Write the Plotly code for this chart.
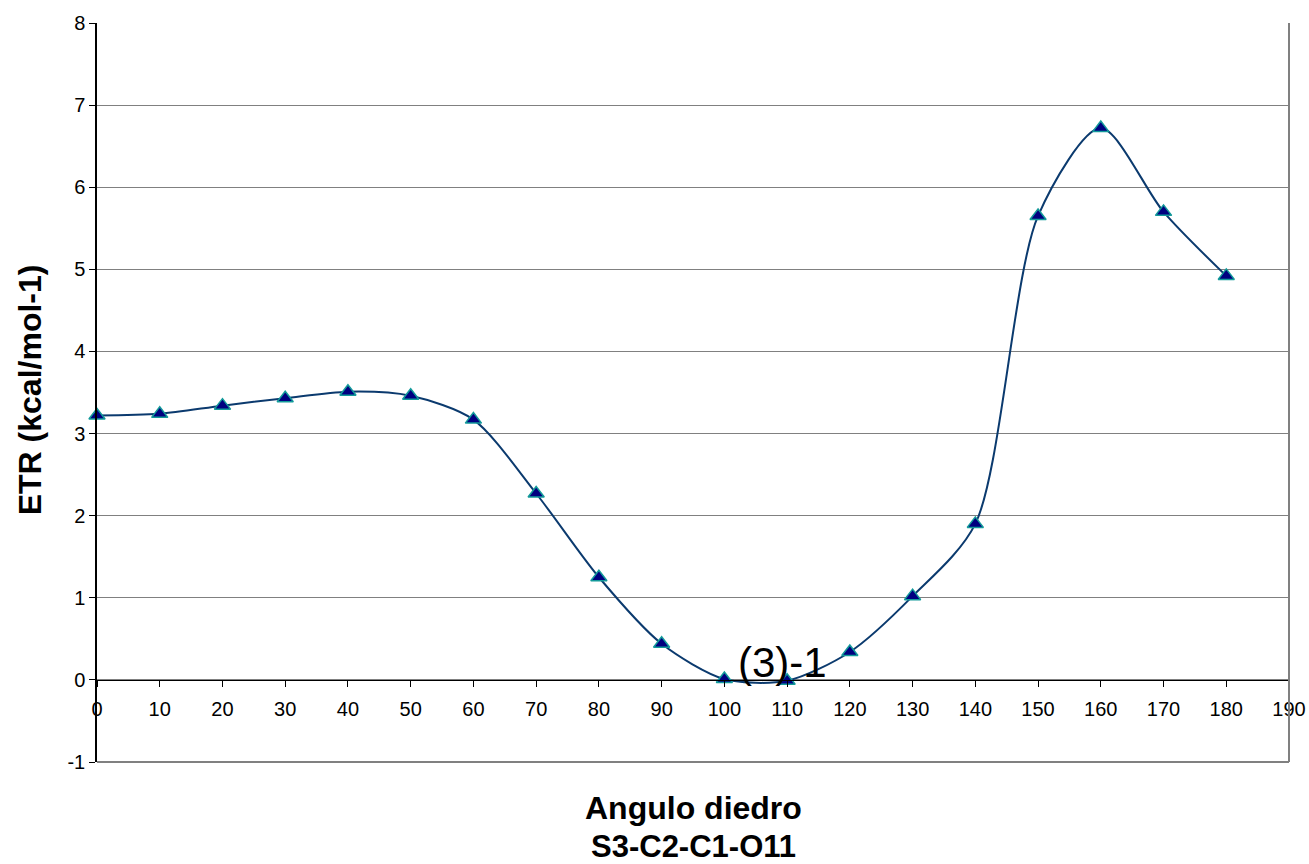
import plotly.graph_objects as go

angles = [0, 10, 20, 30, 40, 50, 60, 70, 80, 90, 100, 110, 120, 130, 140, 150, 160, 170, 180]
etr = [3.22, 3.24, 3.34, 3.43, 3.51, 3.46, 3.17, 2.27, 1.25, 0.44, 0.01, -0.01, 0.34, 1.02, 1.90, 5.65, 6.72, 5.70, 4.92]
x_ticks = list(range(0, 200, 10))
y_ticks = list(range(-1, 9))
y_ticktext = [str(v) for v in y_ticks]

FONT = "Liberation Sans, Arial"

fig = go.Figure()
fig.add_trace(go.Scatter(
    x=angles, y=etr, mode="lines+markers",
    line=dict(color="#0b3a6e", width=2, shape="spline", smoothing=0.8),
    marker=dict(symbol="triangle-up", size=14, color="#000080",
                line=dict(color="#139a9a", width=1.5)),
    showlegend=False, cliponaxis=False,
))

fig.add_annotation(x=109.3, y=0.21, text="(3)-1", showarrow=False, xanchor="center",
                   font=dict(family=FONT, size=42, color="black"))

fig.add_annotation(xref="paper", yref="paper", x=-0.0562, y=0.503, textangle=-90,
                   xanchor="center", yanchor="middle",
                   text="<b>ETR (kcal/mol-1)</b>", showarrow=False,
                   font=dict(family=FONT, size=32, color="black"))
fig.add_annotation(xref="paper", yref="paper", x=0.5, y=-0.062, yanchor="middle",
                   text="<b>Angulo diedro</b>", showarrow=False,
                   font=dict(family=FONT, size=32, color="black"))
fig.add_annotation(xref="paper", yref="paper", x=0.5, y=-0.114, yanchor="middle",
                   text="<b>S3-C2-C1-O11</b>", showarrow=False,
                   font=dict(family=FONT, size=31, color="black"))

# plot frame (right and bottom borders)
fig.add_shape(type="line", xref="paper", yref="paper", x0=1, x1=1, y0=0, y1=1,
              line=dict(color="#808080", width=2))
fig.add_shape(type="line", xref="paper", yref="paper", x0=0, x1=1, y0=0, y1=0,
              line=dict(color="#808080", width=2))

fig.update_layout(
    width=1309, height=864,
    margin=dict(l=97, r=20, t=23, b=102, autoexpand=False),
    plot_bgcolor="white", paper_bgcolor="white",
    font=dict(family=FONT, size=20, color="black"),
    xaxis=dict(range=[0, 190], tickvals=x_ticks, showgrid=False, zeroline=False,
               anchor="free", position=1/9, showline=True, linecolor="black", linewidth=1,
               automargin=False, ticklabelstandoff=5,
               ticks="outside", ticklen=6, tickcolor="black", tickfont=dict(size=20)),
    yaxis=dict(range=[-1, 8], tickvals=y_ticks, ticktext=y_ticktext,
               showgrid=True, gridcolor="#808080", gridwidth=1, automargin=False,
               zeroline=False, showline=True, linecolor="black", linewidth=1.5,
               ticks="outside", ticklen=6, tickcolor="black", tickfont=dict(size=20)),
)

post = ("document.body.style.margin='0';document.body.style.overflow='hidden';"
        "var gd=document.getElementById('{plot_id}');"
        "Plotly.relayout(gd,{width:1309,height:864});")
fig.write_html("out.html", config={"displayModeBar": False, "responsive": False},
               post_script=post)
